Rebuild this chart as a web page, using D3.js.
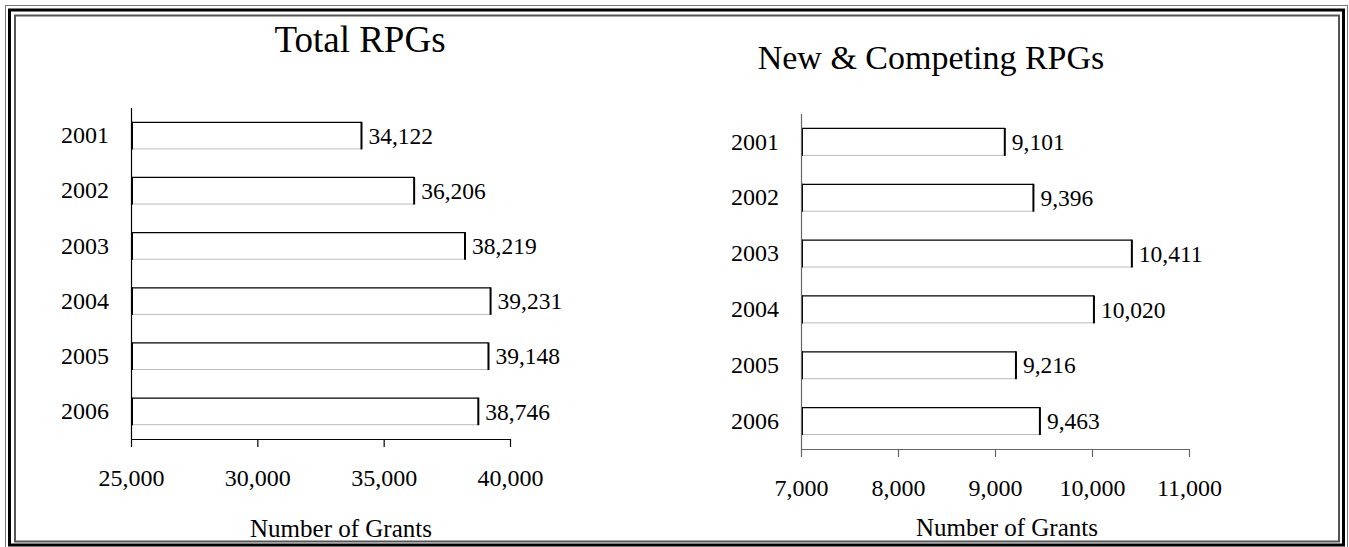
<!DOCTYPE html>
<html>
<head>
<meta charset="utf-8">
<script src="https://cdn.jsdelivr.net/npm/d3@7/dist/d3.min.js"></script>
<style>
  html, body { margin: 0; padding: 0; background: #fff; }
  svg text { font-family: "Liberation Serif", "Times New Roman", serif; fill: #000; }
</style>
</head>
<body>
<svg id="chart" width="1349" height="547"></svg>
<script>
// Research project grants by fiscal year
const years = ["2001", "2002", "2003", "2004", "2005", "2006"];
const totalRPGs = [34122, 36206, 38219, 39231, 39148, 38746];
const newCompetingRPGs = [9101, 9396, 10411, 10020, 9216, 9463];
const totalTicks = [25000, 30000, 35000, 40000];
const newTicks = [7000, 8000, 9000, 10000, 11000];

const svg = d3.select("#chart");
const fmt = d3.format(",");

// Double-ruled page frame
svg.append("rect").attr("x", 5.5).attr("y", 5.5).attr("width", 1342).attr("height", 545)
  .attr("fill", "none").attr("stroke", "#777").attr("stroke-width", 1);
svg.append("rect").attr("x", 9.5).attr("y", 10).attr("width", 1334).attr("height", 535)
  .attr("fill", "none").attr("stroke", "#000").attr("stroke-width", 3);
svg.append("rect").attr("x", 15).attr("y", 15.5).attr("width", 1324).attr("height", 526)
  .attr("fill", "none").attr("stroke", "#555").attr("stroke-width", 2);

function panel(cfg) {
  const x = d3.scaleLinear().domain(cfg.domain).range([cfg.x0, cfg.x1]);
  const y = d3.scaleBand().domain(years).range([cfg.y0, cfg.y1])
    .paddingInner(0.5).paddingOuter(0.25);
  const g = svg.append("g");

  // Title
  g.append("text").attr("x", cfg.titleX).attr("y", cfg.titleY)
    .attr("text-anchor", "middle").style("font-size", cfg.titleSize + "px").text(cfg.title);

  // Bars: white with black top/ends and a light lower edge
  const bars = g.selectAll("g.bar").data(cfg.values).join("g").attr("class", "bar");
  bars.append("rect")
    .attr("x", cfg.x0).attr("y", (d, i) => y(years[i]))
    .attr("width", d => x(d) - cfg.x0).attr("height", y.bandwidth())
    .attr("fill", "#fff");
  bars.append("line")
    .attr("x1", cfg.x0).attr("x2", d => x(d))
    .attr("y1", (d, i) => y(years[i]) + 0.5).attr("y2", (d, i) => y(years[i]) + 0.5)
    .attr("stroke", "#000").attr("stroke-width", 1.2);
  bars.append("line")
    .attr("x1", cfg.x0).attr("x2", d => x(d))
    .attr("y1", (d, i) => y(years[i]) + y.bandwidth() - 0.5)
    .attr("y2", (d, i) => y(years[i]) + y.bandwidth() - 0.5)
    .attr("stroke", "#bbb").attr("stroke-width", 1);
  bars.append("line")
    .attr("x1", cfg.x0 + 1).attr("x2", cfg.x0 + 1)
    .attr("y1", (d, i) => y(years[i])).attr("y2", (d, i) => y(years[i]) + y.bandwidth())
    .attr("stroke", "#000").attr("stroke-width", 2);
  bars.append("line")
    .attr("x1", d => x(d)).attr("x2", d => x(d))
    .attr("y1", (d, i) => y(years[i])).attr("y2", (d, i) => y(years[i]) + y.bandwidth())
    .attr("stroke", "#000").attr("stroke-width", 2);

  // Value labels
  bars.append("text")
    .attr("x", d => x(d) + 7)
    .attr("y", (d, i) => y(years[i]) + y.bandwidth() / 2)
    .attr("dy", "0.35em").style("font-size", "23.5px")
    .text(d => fmt(d));

  // Category axis
  const yAxis = g.append("g").attr("transform", `translate(${cfg.x0},0)`)
    .call(d3.axisLeft(y).tickSize(0).tickPadding(22));
  yAxis.select(".domain").remove();
  yAxis.selectAll("text").style("font-size", "24px").attr("font-family", null);
  g.append("line").attr("x1", cfg.x0 + 0.5).attr("x2", cfg.x0 + 0.5)
    .attr("y1", cfg.axisTop).attr("y2", cfg.y1)
    .attr("stroke", cfg.axisColor).attr("stroke-width", 1.2);

  // Value axis
  const xAxis = g.append("g").attr("transform", `translate(0,${cfg.y1})`)
    .call(d3.axisBottom(x).tickValues(cfg.ticks).tickFormat(fmt).tickSize(8).tickSizeOuter(0).tickPadding(22));
  xAxis.select(".domain").attr("stroke", cfg.axisColor).attr("stroke-width", 1.2);
  xAxis.selectAll(".tick line").attr("stroke", cfg.axisColor).attr("stroke-width", 1.2);
  xAxis.selectAll("text").style("font-size", "24px").attr("font-family", null);

  g.append("text").attr("x", cfg.labelX).attr("y", cfg.labelY)
    .attr("text-anchor", "middle").attr("dy", "0.35em")
    .style("font-size", "25px").text("Number of Grants");
}

panel({
  title: "Total RPGs", titleX: 360, titleY: 52, titleSize: 37,
  values: totalRPGs, domain: [25000, 40000], ticks: totalTicks,
  x0: 131, x1: 510, y0: 108, y1: 439, axisTop: 108,
  axisColor: "#000", labelX: 341, labelY: 528
});

panel({
  title: "New & Competing RPGs", titleX: 931, titleY: 69, titleSize: 34,
  values: newCompetingRPGs, domain: [7000, 11000], ticks: newTicks,
  x0: 801, x1: 1189, y0: 114, y1: 449, axisTop: 114,
  axisColor: "#666", labelX: 1007, labelY: 527
});
</script>
</body>
</html>
